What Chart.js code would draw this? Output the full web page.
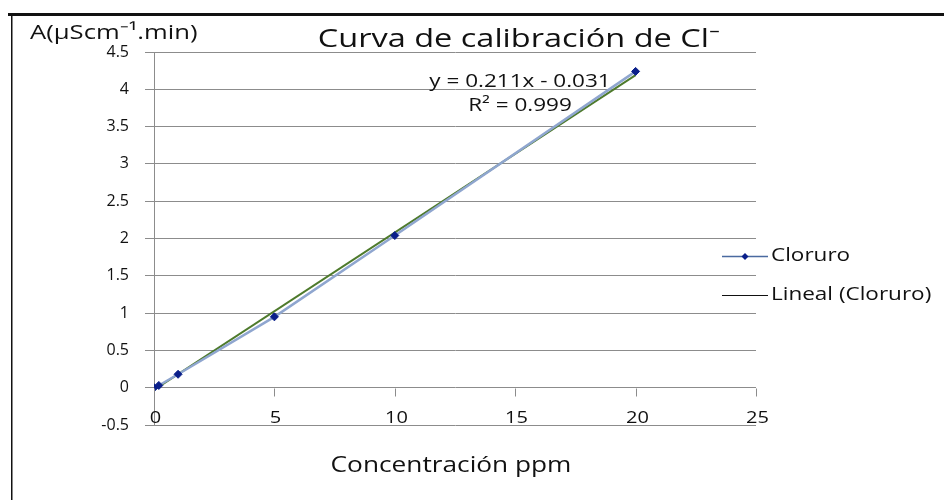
<!DOCTYPE html>
<html>
<head>
<meta charset="utf-8">
<script src="https://cdn.jsdelivr.net/npm/chart.js@4"></script>
<style>
  body { margin: 0; background: #fff; }
  #grafico { display: block; }
</style>
</head>
<body>
<canvas id="grafico" width="944" height="500"></canvas>
<script>
// datos
var concentraciones = [0, 0.2, 1, 5, 10, 20];
var areas = [0, 0.03, 0.18, 0.95, 2.04, 4.24];
// linea de tendencia (y = 0.211x - 0.031)
var tendenciaX = [0, 20];
var tendenciaY = [-0.031, 4.189];
var ticksX = [0, 5, 10, 15, 20, 25];

var titulo = 'Curva de calibración de Cl\u207B';
var tituloY = 'A(\u00B5Scm\u207B\u00B9.min)';
var tituloX = 'Concentración ppm';
var ecuacion = 'y = 0.211x - 0.031';
var r2 = 'R\u00B2 = 0.999';
var nombres = ['Cloruro', 'Lineal (Cloruro)'];

var fuente = '"Open Sans", sans-serif';
var gris = '#8c8c8c';
var estirar = 1.25; // el original esta estirado a lo ancho

function puntos(xs, ys) {
    return xs.map(function (x, i) { return { x: x, y: ys[i] }; });
}

function texto(ctx, str, x, y, size, align) {
    ctx.save();
    ctx.font = size + 'px ' + fuente;
    ctx.textAlign = align;
    ctx.textBaseline = 'middle';
    ctx.translate(x, y);
    ctx.scale(estirar, 1);
    ctx.fillText(str, 0, 0);
    ctx.restore();
}

var extras = {
    id: 'extras',
    afterDraw: function (chart) {
        var ctx = chart.ctx;
        var sx = chart.scales.x, sy = chart.scales.y;
        ctx.save();

        // marco
        ctx.fillStyle = '#111';
        ctx.fillRect(8, 13, 936, 3);
        ctx.fillRect(11, 16, 1.5, 484);

        // marcas y etiquetas del eje x
        ctx.strokeStyle = gris;
        ctx.lineWidth = 1;
        var y0 = Math.round(sy.getPixelForValue(0)) + 0.5;
        var yb = sy.getPixelForValue(-0.5);
        sx.ticks.forEach(function (t) {
            var px = Math.round(sx.getPixelForValue(t.value)) + 0.5;
            ctx.beginPath();
            ctx.moveTo(px, y0);
            ctx.lineTo(px, y0 + 8);
            ctx.stroke();
            texto(ctx, String(t.value), px + 1, yb - 7, 16, 'center');
        });

        ctx.fillStyle = '#111';
        texto(ctx, titulo, 519, 40, 26, 'center');
        texto(ctx, tituloY, 30, 33, 20.5, 'left');
        texto(ctx, tituloX, 451, 466, 21, 'center');
        texto(ctx, ecuacion, 520, 82, 18, 'center');
        texto(ctx, r2, 520, 106, 18, 'center');

        // leyenda
        ctx.strokeStyle = '#4a6aa0';
        ctx.lineWidth = 1.5;
        ctx.beginPath();
        ctx.moveTo(722, 256.5);
        ctx.lineTo(768, 256.5);
        ctx.stroke();
        ctx.fillStyle = '#0a1f8a';
        ctx.beginPath();
        ctx.moveTo(745, 253);
        ctx.lineTo(748.5, 256.5);
        ctx.lineTo(745, 260);
        ctx.lineTo(741.5, 256.5);
        ctx.closePath();
        ctx.fill();
        ctx.strokeStyle = '#111';
        ctx.lineWidth = 1;
        ctx.beginPath();
        ctx.moveTo(722, 295.5);
        ctx.lineTo(768, 295.5);
        ctx.stroke();
        ctx.fillStyle = '#111';
        texto(ctx, nombres[0], 771, 256, 18, 'left');
        texto(ctx, nombres[1], 771, 295, 18, 'left');

        ctx.restore();
    }
};

new Chart(document.getElementById('grafico').getContext('2d'), {
    type: 'scatter',
    data: {
        datasets: [{
            label: nombres[0],
            data: puntos(concentraciones, areas),
            showLine: true,
            borderColor: '#8fa6cf',
            borderWidth: 2.5,
            pointStyle: 'rectRot',
            pointRadius: 4,
            pointBackgroundColor: '#0a1f8a',
            pointBorderColor: '#0a1f8a',
            pointBorderWidth: 1,
            order: 0
        }, {
            label: nombres[1],
            data: puntos(tendenciaX, tendenciaY),
            showLine: true,
            borderColor: '#4e7a2c',
            borderWidth: 2,
            pointRadius: 0,
            order: 1
        }]
    },
    options: {
        responsive: false,
        animation: false,
        layout: { padding: { left: 0, top: 52, right: 188, bottom: 75 } },
        plugins: {
            legend: { display: false },
            tooltip: { enabled: false }
        },
        scales: {
            x: {
                type: 'linear',
                min: 0,
                max: 25,
                afterFit: function (s) { s.height = 0; },
                afterBuildTicks: function (s) {
                    s.ticks = ticksX.map(function (v) { return { value: v }; });
                },
                grid: { display: false, drawTicks: false },
                border: { display: false },
                ticks: { display: false }
            },
            y: {
                min: -0.5,
                max: 4.5,
                afterFit: function (s) { s.width = 154; },
                grid: { color: gris, tickLength: 9, tickColor: gris },
                border: { color: gris },
                ticks: {
                    stepSize: 0.5,
                    padding: 16,
                    color: '#111',
                    font: { family: fuente, size: 16 },
                    callback: function (v) { return String(Math.round(v * 10) / 10); }
                }
            }
        }
    },
    plugins: [extras]
});
</script>
</body>
</html>
